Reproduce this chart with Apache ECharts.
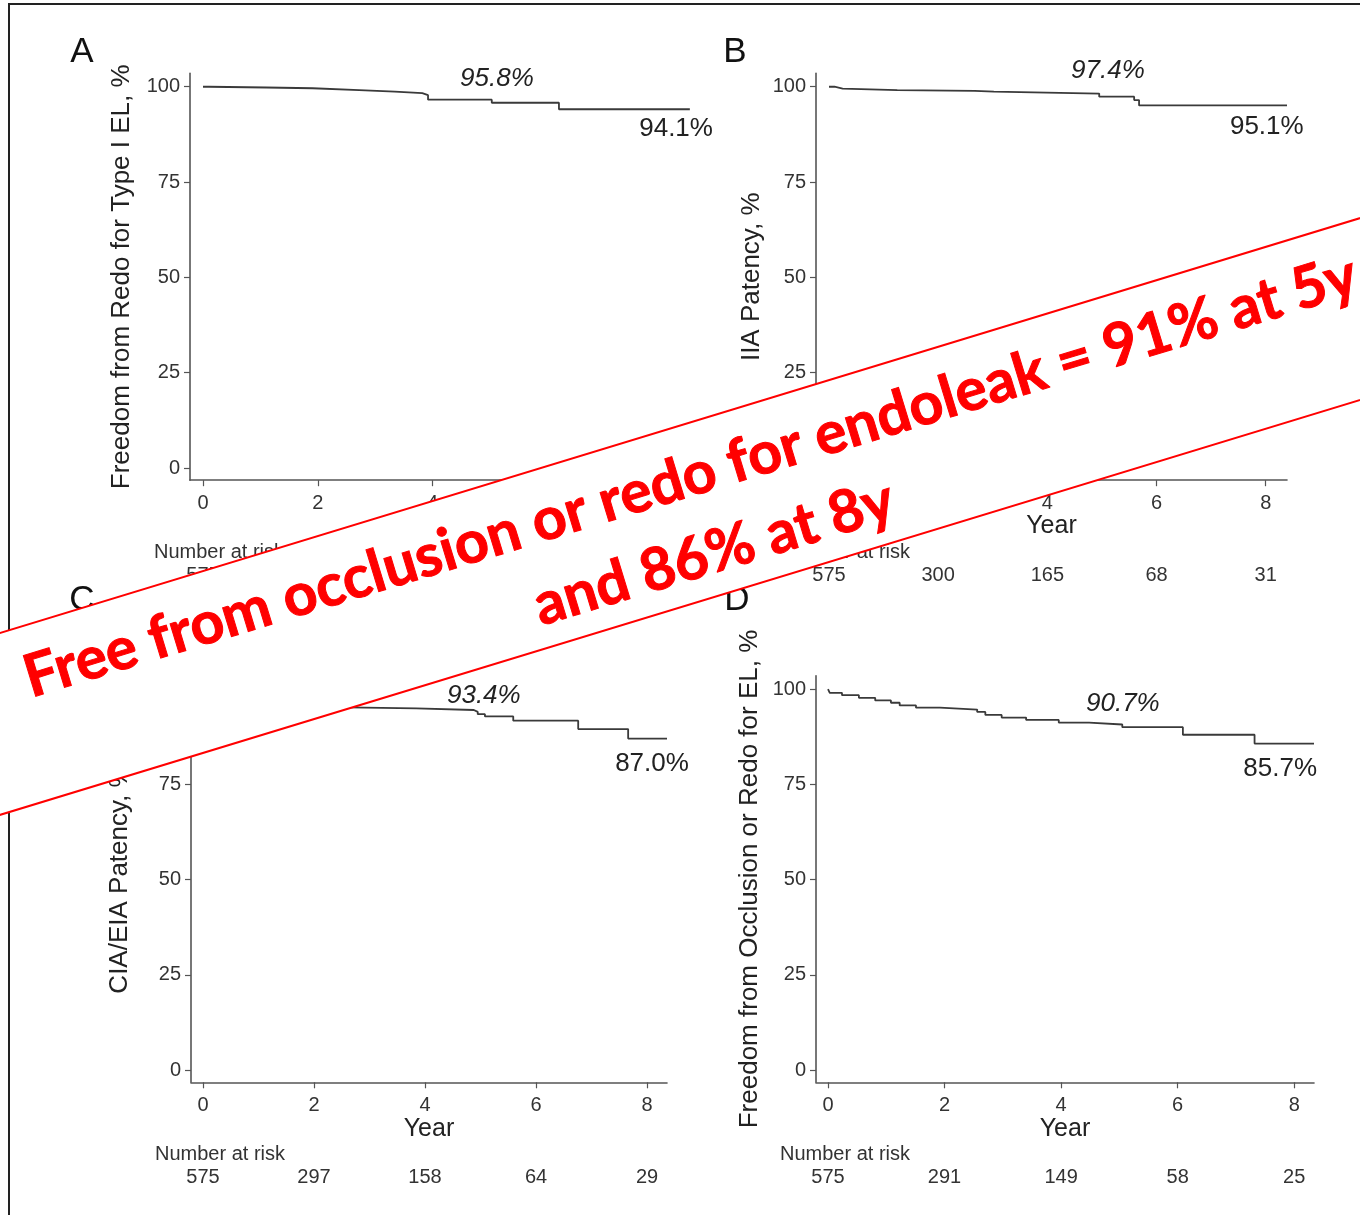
<!DOCTYPE html>
<html><head><meta charset="utf-8">
<script src="https://cdn.jsdelivr.net/npm/echarts@6/dist/echarts.min.js"></script>
<style>html,body{margin:0;padding:0;background:#fff}#c{width:1360px;height:1215px}</style>
</head><body><div id="c"></div>
<script>
// ---- tick values ----
const xTicks = [0, 2, 4, 6, 8];
const yTicks = [0, 25, 50, 75, 100];

// ---- Panel A: freedom from redo for type I endoleak ----
const timeA = [0, 0.1, 1.10, 1.91, 2.72, 3.34, 3.82, 3.92, 5.03, 6.20, 8.48];
const survA = [100, 99.8, 99.6, 99.1, 98.7, 98.3, 97.8, 96.6, 95.8, 94.1, 94.1];
const riskA = [575, null, null, null, null];
const pctA = ['95.8%', '94.1%'];

// ---- Panel B: IIA patency ----
const timeB = [0, 0.1, 0.25, 1.25, 2.67, 3.02, 4.95, 5.59, 5.68, 8.39];
const survB = [100, 99.5, 99.1, 98.9, 98.7, 98.2, 97.4, 96.5, 95.1, 95.1];
const riskB = [575, 300, 165, 68, 31];
const pctB = ['97.4%', '95.1%'];

// ---- Panel C: CIA/EIA patency ----
const timeC = [0, 0.15, 0.6, 1.2, 1.8, 2.3, 2.6, 3.84, 4.88, 4.95, 5.08, 5.59, 6.76, 7.66, 8.36];
const survC = [100, 99.0, 98.0, 97.0, 96.0, 95.2, 94.9, 94.5, 94.0, 93.4, 92.8, 91.7, 89.5, 87.0, 87.0];
const riskC = [575, 297, 158, 64, 29];
const pctC = ['93.4%', '87.0%'];

// ---- Panel D: freedom from occlusion or redo for EL ----
const timeD = [0, 0.03, 0.24, 0.53, 0.81, 1.08, 1.23, 1.51, 1.92, 2.56, 2.70, 2.98, 3.40, 3.96, 4.48, 5.05, 6.09, 7.32, 8.34];
const survD = [100, 99.0, 98.4, 97.7, 97.0, 96.4, 95.7, 95.1, 94.6, 94.0, 93.2, 92.5, 91.9, 91.2, 90.7, 90.0, 88.0, 85.7, 85.7];
const riskD = [575, 291, 149, 58, 25];
const pctD = ['90.7%', '85.7%'];

const bannerLines = ['Free from occlusion or redo for endoleak = 91% at 5y', 'and 86% at 8y'];

// ---- layout ----
const FONT = '"Liberation Sans", Arial, Helvetica, sans-serif';
const panels = [
  {letter:'A', letterPos:[82,52], title:'Freedom from Redo for Type I EL, %', t:timeA, s:survA, risk:riskA, pct:pctA,
   grid:{left:190, top:73.4, width:501, height:406.8}, xMin:-0.226, xMax:8.5, nameGap:55,
   pctPos:[[5.12,102.0],[8.24,88.9]]},
  {letter:'B', letterPos:[735,52], title:'IIA Patency, %', t:timeB, s:survB, risk:riskB, pct:pctB,
   grid:{left:816, top:73.4, width:471, height:406.8}, xMin:-0.238, xMax:8.39, nameGap:51,
   pctPos:[[5.11,104.1],[8.02,89.4]]},
  {letter:'C', letterPos:[82,600], title:'CIA/EIA Patency, %', t:timeC, s:survC, risk:riskC, pct:pctC,
   grid:{left:191, top:675.7, width:476, height:406.6}, xMin:-0.216, xMax:8.36, nameGap:58,
   pctPos:[[5.06,98.2],[8.09,80.3]]},
  {letter:'D', letterPos:[737,600], title:'Freedom from Occlusion or Redo for EL, %', t:timeD, s:survD, risk:riskD, pct:pctD,
   grid:{left:816, top:675.7, width:498, height:406.6}, xMin:-0.206, xMax:8.34, nameGap:53,
   pctPos:[[5.06,96.1],[7.76,79.1]]}
];
const Y_MIN = -3.2, Y_MAX = 103.5;
const AXIS_COLOR = '#555';

const chart = echarts.init(document.getElementById('c'), null, {renderer:'canvas'});

const option = {
  animation:false,
  backgroundColor:'#ffffff',
  grid: panels.map(p => Object.assign({containLabel:false}, p.grid)),
  xAxis: panels.map((p,i) => ({
    type:'value', gridIndex:i, min:p.xMin, max:p.xMax,
    name:'Year', nameLocation:'middle', nameGap:33,
    nameTextStyle:{fontSize:25, color:'#222', fontFamily:FONT},
    axisLine:{show:true, onZero:false, lineStyle:{color:AXIS_COLOR, width:1.6}},
    axisTick:{show:true, length:6, customValues:xTicks, lineStyle:{color:AXIS_COLOR, width:1.2}},
    axisLabel:{show:true, customValues:xTicks, margin:13, fontSize:20, color:'#333', fontFamily:FONT},
    splitLine:{show:false}
  })),
  yAxis: panels.map((p,i) => ({
    type:'value', gridIndex:i, min:Y_MIN, max:Y_MAX,
    name:p.title, nameLocation:'middle', nameRotate:90, nameGap:p.nameGap,
    nameTextStyle:{fontSize:26, color:'#222', fontFamily:FONT},
    axisLine:{show:true, onZero:false, lineStyle:{color:AXIS_COLOR, width:1.6}},
    axisTick:{show:true, length:6, customValues:yTicks, lineStyle:{color:AXIS_COLOR, width:1.2}},
    axisLabel:{show:true, customValues:yTicks, margin:10, fontSize:20, color:'#333', fontFamily:FONT},
    splitLine:{show:false}
  })),
  series: panels.map((p,i) => ({
    type:'line', xAxisIndex:i, yAxisIndex:i, step:'end', showSymbol:false, silent:true,
    lineStyle:{color:'#3a3a3a', width:1.8},
    data:p.t.map((tv,k) => [tv, p.s[k]])
  }))
};
chart.setOption(option);

// ---- annotations placed through the axes' scales ----
const graphics = [];
panels.forEach((p,i) => {
  const px = (x,y) => chart.convertToPixel({gridIndex:i}, [x,y]);
  graphics.push({type:'text', x:p.letterPos[0], y:p.letterPos[1],
    style:{text:p.letter, fontSize:35, fontFamily:FONT, fill:'#111', align:'center', verticalAlign:'middle'}});
  p.pct.forEach((txt,k) => {
    const pt = px(p.pctPos[k][0], p.pctPos[k][1]);
    graphics.push({type:'text', x:pt[0], y:pt[1],
      style:{text:txt, fontSize:26, fontFamily:FONT, fontStyle:(k===0?'italic':'normal'), fill:'#222', align:'center', verticalAlign:'middle'}});
  });
  const base = px(0, Y_MIN)[1];
  graphics.push({type:'text', x:p.grid.left - 36, y:base + 72,
    style:{text:'Number at risk', fontSize:20, fontFamily:FONT, fill:'#333', align:'left', verticalAlign:'middle'}});
  p.risk.forEach((n,k) => {
    if (n === null) return;
    const pt = px(xTicks[k], 0);
    graphics.push({type:'text', x:pt[0], y:base + 95,
      style:{text:String(n), fontSize:20, fontFamily:FONT, fill:'#333', align:'center', verticalAlign:'middle'}});
  });
});
// outer frame
graphics.push({type:'rect', shape:{x:9, y:4, width:1500, height:1400}, style:{fill:'transparent', stroke:'#222', lineWidth:2}, z:50});
// red banner
const ang = Math.atan(0.305);
const bannerFont = {fontSize:59, fontWeight:'bold', fontFamily:'Lato, "Open Sans", sans-serif', fill:'#ff0000', stroke:'#ff0000', lineWidth:1, align:'center', verticalAlign:'middle'};
graphics.push({type:'group', x:698, y:511, rotation:ang, z:100, children:[
  {type:'rect', z:100, shape:{x:-1400, y:-87, width:2800, height:174}, style:{fill:'#ffffff', stroke:'#ff0000', lineWidth:2}},
  {type:'text', z:101, x:3, y:-35, style:Object.assign({text:bannerLines[0]}, bannerFont)},
  {type:'text', z:101, x:3, y:45, style:Object.assign({text:bannerLines[1]}, bannerFont)}
]});
chart.setOption({graphic:{elements:graphics}});
</script>
</body></html>
